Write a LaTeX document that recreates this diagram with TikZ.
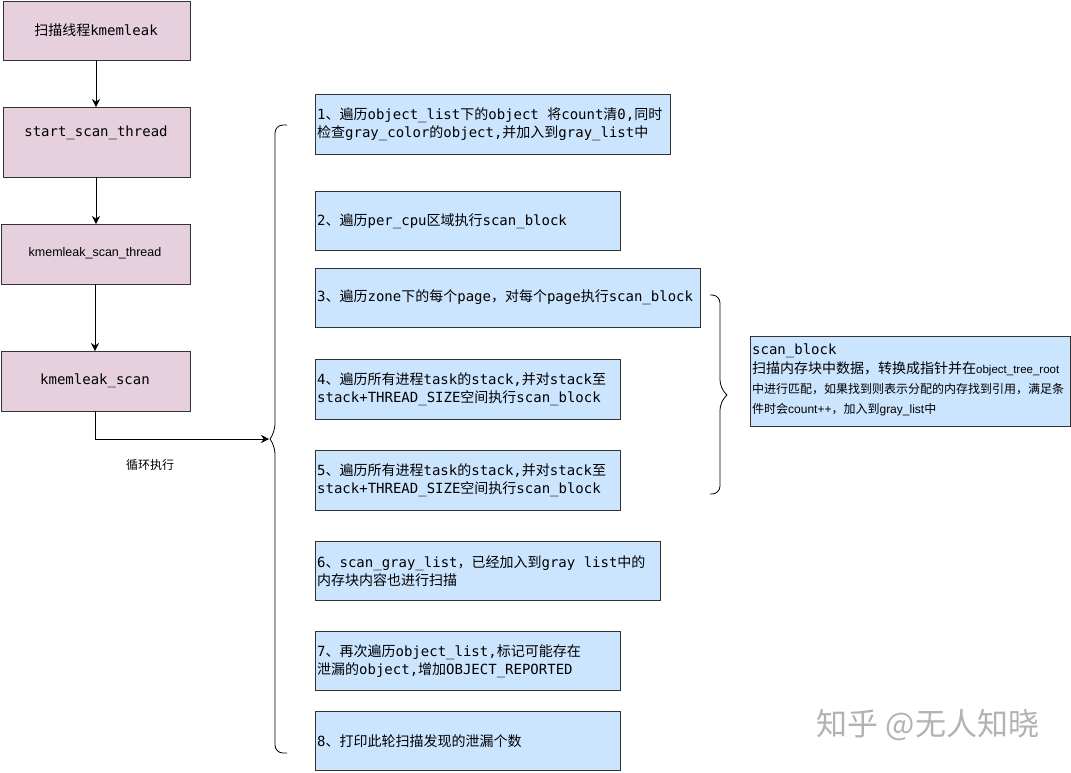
\documentclass[tikz,border=0pt]{standalone}
\usepackage{fontspec}
\setmonofont{DejaVu Sans Mono}
\setsansfont{Liberation Sans}
\newfontfamily\cjk{Noto Sans CJK SC}
\newcommand\zh[1]{{\cjk #1}}
\begin{document}
\begin{tikzpicture}[x=1pt,y=-1pt,
  pink/.style={draw=black!80,fill=pinkc,line width=0.8pt},
  blue/.style={draw=black!80,fill=bluec,line width=0.8pt},
  mt/.style={font=\fontsize{14}{18}\selectfont\ttfamily,align=left,inner sep=0pt},
  arr/.style={-{Stealth[length=8pt,width=8pt]},line width=0.8pt}]
\definecolor{pinkc}{HTML}{E6D0DE}
\definecolor{bluec}{HTML}{CCE5FF}
\usetikzlibrary{arrows.meta}
\useasboundingbox (0,0) rectangle (1071,772);
% left chain
\draw[pink] (3,1) rectangle (190,60); \node[mt] (a) at (96,30) {\zh{扫描线程}kmemleak};
\draw[pink] (3,107) rectangle (190,177); \node[mt] (b) at (96,133) {start\_scan\_thread};
\draw[pink] (1,224) rectangle (190,284); \node[font=\fontsize{12.5}{14}\selectfont\sffamily] (c) at (95,253) {kmemleak\_scan\_thread};
\draw[pink] (1,351) rectangle (190,411); \node[mt] (d) at (95,381) {kmemleak\_scan};
\coordinate (ab) at (96,60); \coordinate (bt) at (96,107);
\coordinate (bb) at (96,177); \coordinate (ct) at (96,224);
\coordinate (cb) at (95,284); \coordinate (dt) at (95,351);
\coordinate (db) at (95,411); \coordinate (tip) at (269,439);
\draw[arr] (ab) -- (bt);
\draw[arr] (bb) -- (ct);
\draw[arr] (cb) -- (dt);
\draw[arr] (db) |- (tip);
\node[font=\fontsize{12}{14}\selectfont\cjk] (loop) at (150,465) {循环执行};
% left brace
\draw[line width=0.8pt,rounded corners=8pt] (287,125) -- (275,125) -- (275,432) -- (270,439);
\draw[line width=0.8pt,rounded corners=8pt] (270,439) -- (275,446) -- (275,753) -- (287,753);
% blue boxes
\draw[blue] (315,94) rectangle (670,154);
\node[mt,anchor=west] (s1) at (317,124) {1\zh{、遍历}object\_list\zh{下的}object \zh{将}count\zh{清}0,\zh{同时}\\\zh{检查}gray\_color\zh{的}object,\zh{并加入到}gray\_list\zh{中}};
\draw[blue] (315,191) rectangle (620,250);
\node[mt,anchor=west] (s2) at (317,221) {2\zh{、遍历}per\_cpu\zh{区域执行}scan\_block};
\draw[blue] (315,268) rectangle (700,327);
\node[mt,anchor=west] (s3) at (317,297) {3\zh{、遍历}zone\zh{下的每个}page\zh{，对每个}page\zh{执行}scan\_block};
\draw[blue] (315,359) rectangle (620,419);
\node[mt,anchor=west] (s4) at (317,389) {4\zh{、遍历所有进程}task\zh{的}stack,\zh{并对}stack\zh{至}\\stack+THREAD\_SIZE\zh{空间执行}scan\_block};
\draw[blue] (315,450) rectangle (620,510);
\node[mt,anchor=west] (s5) at (317,480) {5\zh{、遍历所有进程}task\zh{的}stack,\zh{并对}stack\zh{至}\\stack+THREAD\_SIZE\zh{空间执行}scan\_block};
\draw[blue] (315,541) rectangle (660,600);
\node[mt,anchor=west] (s6) at (317,571) {6\zh{、}scan\_gray\_list\zh{，已经加入到}gray list\zh{中的}\\\zh{内存块内容也进行扫描}};
\draw[blue] (315,631) rectangle (620,690);
\node[mt,anchor=west] (s7) at (317,661) {7\zh{、再次遍历}object\_list,\zh{标记可能存在}\\\zh{泄漏的}object,\zh{增加}OBJECT\_REPORTED};
\draw[blue] (315,711) rectangle (620,770);
\node[mt,anchor=west] (s8) at (317,741) {8\zh{、打印此轮扫描发现的泄漏个数}};
% right brace
\draw[line width=0.8pt,rounded corners=8pt] (710,295) -- (720,295) -- (720,388) -- (727,395);
\draw[line width=0.8pt,rounded corners=8pt] (727,395) -- (720,402) -- (720,494) -- (710,494);
\draw[blue] (750,336) rectangle (1070,426);
\node[mt,anchor=north west] (sbt) at (752,344) {scan\_block};
\node[font=\fontsize{12}{20}\selectfont\sffamily,align=left,anchor=north west,inner sep=0pt] (sb) at (752,361) {{\cjk\fontsize{14}{20}\selectfont 扫描内存块中数据，转换成指针并在}{\fontsize{11.5}{20}\selectfont object\_tree\_root}\\\zh{中进行匹配，如果找到则表示分配的内存找到引用，满足条}\\\zh{件时会}count++\zh{，加入到}gray\_list\zh{中}};
\node[font=\fontsize{31}{33}\selectfont\cjk,text=black!30] (wm) at (928,725) {知乎 @无人知晓};
\end{tikzpicture}
\end{document}
